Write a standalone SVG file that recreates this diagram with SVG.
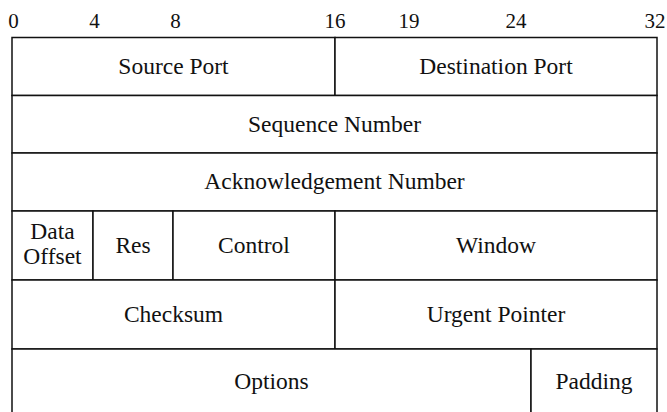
<svg xmlns="http://www.w3.org/2000/svg" width="667" height="412" viewBox="0 0 667 412">
<style>
.f{fill:#fff;stroke:#111;stroke-width:1.5}
.t{font-family:'Liberation Serif','Times New Roman',serif;font-size:23.5px;fill:#111;text-anchor:middle}
.b{font-family:'Liberation Serif','Times New Roman',serif;font-size:21px;fill:#111;text-anchor:middle}
</style>
<rect width="667" height="412" fill="#fff"/>
<g id="bits">
<text class="b" x="13.5" y="28">0</text>
<text class="b" x="94.5" y="28">4</text>
<text class="b" x="175.5" y="28">8</text>
<text class="b" x="335" y="28">16</text>
<text class="b" x="409" y="28">19</text>
<text class="b" x="516" y="28">24</text>
<text class="b" x="655" y="28">32</text>
</g>
<g id="source-port"><rect class="f" x="12" y="37.5" width="323" height="58"/><text class="t" x="173.5" y="74">Source Port</text></g>
<g id="destination-port"><rect class="f" x="335" y="37.5" width="322" height="58"/><text class="t" x="496" y="74">Destination Port</text></g>
<g id="sequence-number"><rect class="f" x="12" y="95.5" width="645" height="57.5"/><text class="t" x="334.5" y="131.5">Sequence Number</text></g>
<g id="ack-number"><rect class="f" x="12" y="153" width="645" height="58"/><text class="t" x="334.5" y="188.5">Acknowledgement Number</text></g>
<g id="data-offset"><rect class="f" x="12" y="211" width="81" height="69"/><text class="t" x="52.5" y="238.5">Data</text><text class="t" x="52.5" y="264">Offset</text></g>
<g id="res"><rect class="f" x="93" y="211" width="80" height="69"/><text class="t" x="133" y="253">Res</text></g>
<g id="control"><rect class="f" x="173" y="211" width="162" height="69"/><text class="t" x="254" y="253">Control</text></g>
<g id="window"><rect class="f" x="335" y="211" width="322" height="69"/><text class="t" x="496" y="253">Window</text></g>
<g id="checksum"><rect class="f" x="12" y="280" width="323" height="69"/><text class="t" x="173.5" y="322">Checksum</text></g>
<g id="urgent-pointer"><rect class="f" x="335" y="280" width="322" height="69"/><text class="t" x="496" y="322">Urgent Pointer</text></g>
<g id="options"><rect class="f" x="12" y="349" width="519" height="70"/><text class="t" x="271.5" y="389">Options</text></g>
<g id="padding"><rect class="f" x="531" y="349" width="126" height="70"/><text class="t" x="594" y="389">Padding</text></g>
<g id="connectors"/>
</svg>
